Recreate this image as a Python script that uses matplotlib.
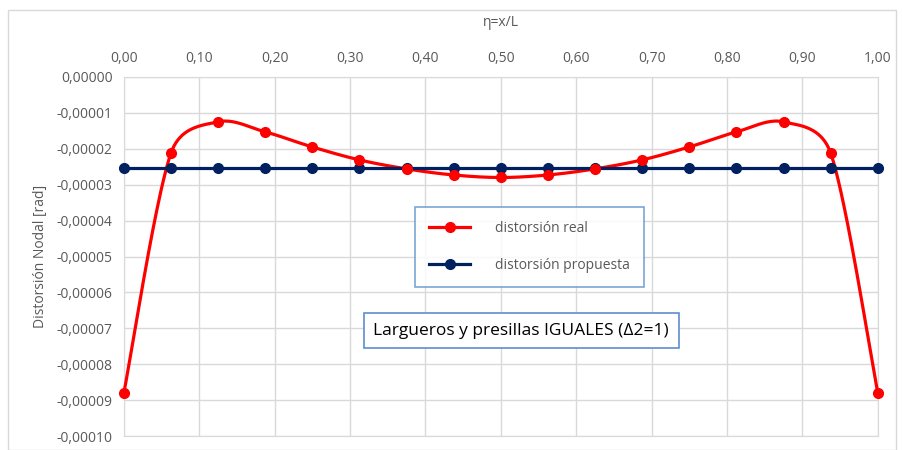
import matplotlib.pyplot as plt
import numpy as np
from matplotlib.ticker import FuncFormatter
from matplotlib.patches import Rectangle

eta = [i / 16 for i in range(17)]
real = [-8.80e-5, -2.12e-5, -1.25e-5, -1.53e-5, -1.95e-5, -2.31e-5, -2.56e-5, -2.73e-5, -2.80e-5,
        -2.73e-5, -2.56e-5, -2.31e-5, -1.95e-5, -1.53e-5, -1.25e-5, -2.12e-5, -8.80e-5]
propuesta = [-2.54e-5] * 17

xticks = [i / 10 for i in range(11)]
yticks = [-i * 1e-5 for i in range(11)]


def smooth(x, y, sx=754.0, sy=3.59e6, n=40, cap=0.5):
    # bezier smoothing: arms of (next - prev)/6, limited to a share of the segment length
    p = np.column_stack([np.asarray(x, float) * sx, np.asarray(y, float) * sy])
    m = len(p)
    t = np.linspace(0, 1, n, endpoint=False)[:, None]

    def arm(v, seg):
        L = np.linalg.norm(v)
        lim = cap * seg
        return v * (lim / L) if L > lim else v

    pts = []
    for i in range(m - 1):
        a, b = p[i], p[i + 1]
        seg = np.linalg.norm(b - a)
        prev = p[i - 1] if i > 0 else a
        nxt = p[i + 2] if i < m - 2 else b
        c1 = a + arm((b - prev) / 6, seg)
        c2 = b - arm((nxt - a) / 6, seg)
        pts.append(((1 - t) ** 3) * a + 3 * ((1 - t) ** 2) * t * c1 + 3 * (1 - t) * t ** 2 * c2 + t ** 3 * b)
    pts.append(p[-1:])
    pts = np.vstack(pts)
    return pts[:, 0] / sx, pts[:, 1] / sy


plt.rcParams['font.family'] = ['Open Sans', 'DejaVu Sans']
gray = '#595959'

fig = plt.figure(figsize=(9.04, 4.5), dpi=100)
fig.patches.append(Rectangle((0.009, 0.0), 0.982, 0.978, transform=fig.transFigure,
                             fill=False, edgecolor='#d9d9d9', linewidth=1))
ax = fig.add_axes([0.137, 0.031, 0.834, 0.798])

cx, cy = smooth(eta, real)
ax.plot(cx, cy, color='#ff0000', linewidth=2.3, zorder=3, clip_on=False)
ax.plot(eta, real, 'o', color='#ff0000', markersize=7, zorder=4, clip_on=False)
ax.plot(eta, propuesta, '-o', color='#002060', linewidth=2.3, markersize=7, zorder=3, clip_on=False)

# legend handles
ax.plot([], [], '-o', color='#ff0000', linewidth=2.3, markersize=7, label='distorsión real')
ax.plot([], [], '-o', color='#002060', linewidth=2.3, markersize=7, label='distorsión propuesta')
handles, labels = ax.get_legend_handles_labels()
leg = ax.legend(handles, labels, loc='upper left', bbox_to_anchor=(0.459, 0.54), bbox_transform=fig.transFigure,
                fontsize=10, frameon=True, fancybox=False, labelspacing=1.6, handlelength=3,
                borderpad=1.0, borderaxespad=0, handletextpad=1.8, labelcolor=gray)
leg.get_frame().set_edgecolor('#5b8fd0')
leg.get_frame().set_linewidth(1.2)
leg.get_frame().set_facecolor('white')
leg.set_zorder(5)

fig.text(0.5765, 0.2655, 'Largueros y presillas IGUALES (\u03942=1)', ha='center', va='center',
         fontsize=12.5, color='black',
         bbox=dict(boxstyle='square,pad=0.55', facecolor='white', edgecolor='#5b8fd0', linewidth=1.2))

ax.set_xlim(0, 1)
ax.set_ylim(-1e-4, 0)
ax.set_xticks(xticks)
ax.set_yticks(yticks)
ax.xaxis.tick_top()
ax.xaxis.set_label_position('top')
ax.xaxis.set_major_formatter(FuncFormatter(lambda v, p: f'{v:.2f}'.replace('.', ',')))
ax.yaxis.set_major_formatter(FuncFormatter(lambda v, p: f'{v:.5f}'.replace('.', ',').replace('-0,00000', '0,00000')))
ax.tick_params(length=0, labelsize=10, labelcolor=gray, pad=8)
ax.set_xlabel('\u03b7=x/L', fontsize=10, color=gray, labelpad=18)
ax.set_ylabel('Distorsión Nodal [rad]', fontsize=10, color=gray, labelpad=6)
ax.grid(True, color='#d9d9d9', linewidth=1)
ax.set_axisbelow(True)
for s in ax.spines.values():
    s.set_color('#d9d9d9')

fig.savefig('out.png', dpi=100)
